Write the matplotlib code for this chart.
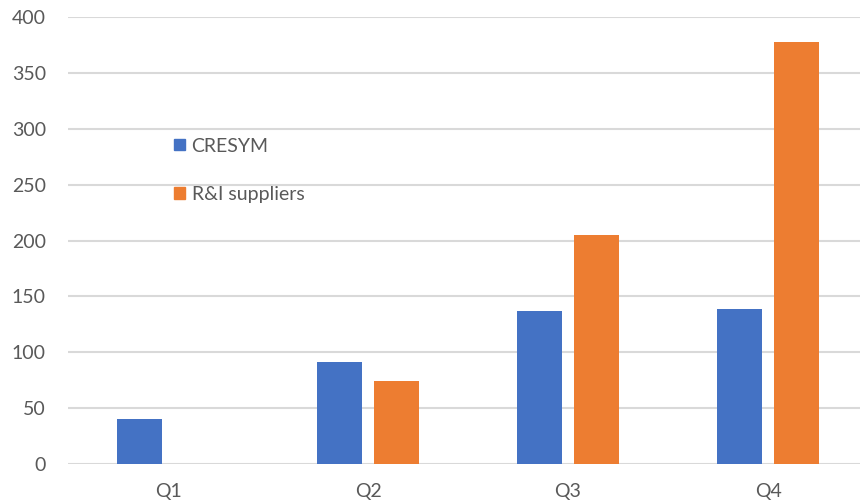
import matplotlib
matplotlib.use("Agg")
import matplotlib.pyplot as plt
import numpy as np
from matplotlib.patches import Patch

categories = ["Q1", "Q2", "Q3", "Q4"]
cresym = [40, 91, 137, 139]
ri_suppliers = [0, 74, 205, 378]
series_names = ["CRESYM", "R&I suppliers"]
yticks = [0, 50, 100, 150, 200, 250, 300, 350, 400]

blue = "#4472C4"
orange = "#ED7D31"
txt = "#595959"

plt.rcParams['font.family'] = ['Lato', 'DejaVu Sans']

W, H = 860, 504
fig = plt.figure(figsize=(W / 100, H / 100), dpi=100)
ax = fig.add_axes([68 / W, 40 / H, 800 / W, 447 / H])

x = np.arange(len(categories))
bw = 0.225
off = 0.1425
ax.bar(x - off, cresym, width=bw, color=blue, zorder=3)
ax.bar(x + off, ri_suppliers, width=bw, color=orange, zorder=3)

ax.set_xlim(-0.5, 3.5)
ax.set_ylim(0, 400)
ax.set_yticks(yticks)
ax.set_xticks(x)
ax.set_xticklabels(categories)
ax.yaxis.grid(True, color="#d9d9d9", linewidth=1.5, zorder=0)
ax.set_axisbelow(True)
for s in ax.spines.values():
    s.set_visible(False)
ax.tick_params(axis="both", length=0, labelsize=14, colors=txt)
ax.tick_params(axis="y", pad=16)
ax.tick_params(axis="x", pad=14)

handles = [Patch(color=blue), Patch(color=orange)]
leg = ax.legend(handles, series_names, loc="upper left",
                bbox_to_anchor=(174 / W, 1 - 137.5 / H), bbox_transform=fig.transFigure,
                frameon=False, fontsize=14, labelspacing=1.6,
                handlelength=0.55, handleheight=0.55, handletextpad=0.35,
                borderaxespad=0, borderpad=0)
for t in leg.get_texts():
    t.set_color(txt)

fig.savefig("out.png", dpi=100, facecolor="white")
